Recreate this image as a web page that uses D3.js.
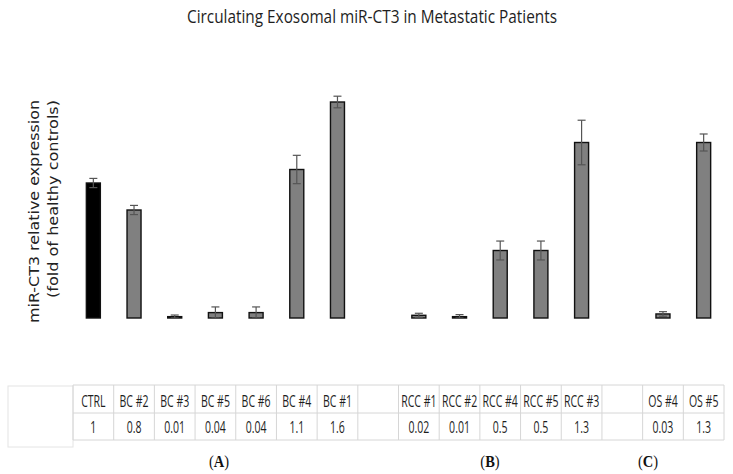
<!DOCTYPE html>
<html><head><meta charset="utf-8">
<script src="https://cdn.jsdelivr.net/npm/d3@7"></script>
<style>body{margin:0;background:#fff}svg{display:block}</style>
</head><body>
<script>
const categories = ["CTRL","BC #2","BC #3","BC #5","BC #6","BC #4","BC #1","","RCC #1","RCC #2","RCC #4","RCC #5","RCC #3"," ","OS #4","OS #5"];
const values =     [1, 0.8, 0.01, 0.04, 0.04, 1.1, 1.6, null, 0.02, 0.01, 0.5, 0.5, 1.3, null, 0.03, 1.3];
const valueLabels = ["1","0.8","0.01","0.04","0.04","1.1","1.6","","0.02","0.01","0.5","0.5","1.3","","0.03","1.3"];
const errors =     [0.034, 0.034, 0.012, 0.042, 0.042, 0.105, 0.043, null, 0.015, 0.015, 0.07, 0.07, 0.165, null, 0.017, 0.063];
const panelLabels = ["A","B","C"];

const W = 733, H = 474;
const svg = d3.select("body").append("svg").attr("width", W).attr("height", H);

const x = d3.scaleBand().domain(categories).range([73, 724]).paddingInner(0).paddingOuter(0);
const y = d3.scaleLinear().domain([0, 1]).range([318, 183]);

// title
svg.append("g").attr("transform", "translate(372,23) scale(1,1.14)")
  .append("text").attr("x", 0).attr("y", 0).attr("text-anchor", "middle")
  .attr("font-family", "Open Sans, sans-serif").attr("font-size", 16).attr("fill", "#1e1e1e")
  .attr("textLength", 370).attr("lengthAdjust", "spacingAndGlyphs")
  .text("Circulating Exosomal miR-CT3 in Metastatic Patients");

// y-axis title
const yt = svg.append("g").attr("font-family", "DejaVu Sans, sans-serif").attr("font-size", 14).attr("fill", "#222");
yt.append("text").attr("transform", "translate(38.5,100) rotate(-90)").attr("text-anchor", "end")
  .attr("textLength", 223).attr("lengthAdjust", "spacingAndGlyphs").text("miR-CT3 relative expression");
yt.append("text").attr("transform", "translate(58,100) rotate(-90)").attr("text-anchor", "end")
  .attr("textLength", 198).attr("lengthAdjust", "spacingAndGlyphs").text("(fold of healthy controls)");

// bars
const bw = 14;
const data = categories.map((c, i) => ({c, v: values[i], e: errors[i], i}));
const bars = data.filter(d => d.v !== null);
svg.append("g").selectAll("rect").data(bars).join("rect")
  .attr("x", d => x(d.c) + x.bandwidth() / 2 - bw / 2)
  .attr("y", d => y(d.v))
  .attr("width", bw)
  .attr("height", d => y(0) - y(d.v))
  .attr("fill", d => d.i === 0 ? "#000" : "#808080")
  .attr("stroke", "#111").attr("stroke-width", 1.4);

// error bars
const eg = svg.append("g").attr("stroke", "#555").attr("stroke-width", 1.2);
bars.forEach(d => {
  const cx = x(d.c) + x.bandwidth() / 2;
  const top = y(d.v + d.e), bot = y(Math.max(0, d.v - d.e));
  eg.append("line").attr("x1", cx).attr("x2", cx).attr("y1", top).attr("y2", bot);
  eg.append("line").attr("x1", cx - 4).attr("x2", cx + 4).attr("y1", top).attr("y2", top);
  eg.append("line").attr("x1", cx - 4).attr("x2", cx + 4).attr("y1", bot).attr("y2", bot);
});

// table
const tb = svg.append("g");
const rowTop = 385, rowMid = 413, rowBot = 440;
const grid = "#d6d6d6";
tb.append("rect").attr("x", 8).attr("y", 386).attr("width", 65).attr("height", 61)
  .attr("fill", "none").attr("stroke", "#e4e4e4");
[rowTop, rowMid, rowBot].forEach(yy => tb.append("line").attr("x1", 73).attr("x2", 724)
  .attr("y1", yy).attr("y2", yy).attr("stroke", grid));
categories.forEach(c => tb.append("line").attr("x1", x(c)).attr("x2", x(c))
  .attr("y1", rowTop).attr("y2", rowBot).attr("stroke", grid));
tb.append("line").attr("x1", 724).attr("x2", 724).attr("y1", rowTop).attr("y2", rowBot).attr("stroke", grid);

const tt = tb.append("g").attr("font-family", "Open Sans, sans-serif").attr("font-size", 13.5)
  .attr("fill", "#1e1e1e").attr("text-anchor", "middle");
categories.forEach((c, i) => {
  const cx = x(c) + x.bandwidth() / 2;
  if (c.trim()) {
    tt.append("text").attr("transform", `translate(${cx},406.5) scale(0.78,1.15)`).text(c);
  }
  if (valueLabels[i]) tt.append("text").attr("transform", `translate(${cx},433) scale(0.78,1.15)`).text(valueLabels[i]);
});

// panel labels
const px = [219, 490, 648];
panelLabels.forEach((p, i) => {
  const t = svg.append("text").attr("transform", `translate(${px[i]},467) scale(1,1.12)`).attr("text-anchor", "middle")
    .attr("font-family", "Liberation Serif, serif").attr("font-size", 14.5).attr("fill", "#111");
  t.append("tspan").text("(");
  t.append("tspan").attr("font-weight", "bold").text(p);
  t.append("tspan").text(")");
});
</script>
</body></html>
